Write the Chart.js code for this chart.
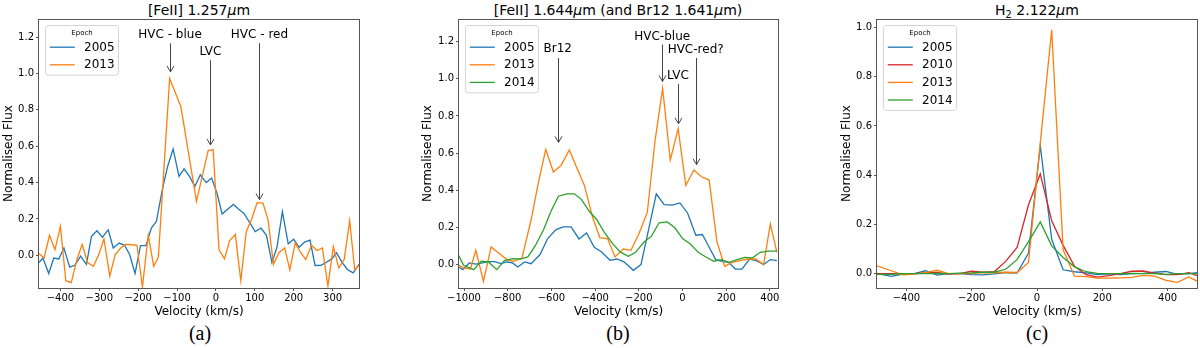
<!DOCTYPE html>
<html>
<head>
<meta charset="utf-8">
<script src="https://cdn.jsdelivr.net/npm/chart.js@4.4.1/dist/chart.umd.min.js"></script>
<style>
  html, body { margin: 0; padding: 0; background: #fff; }
  body { width: 1200px; height: 348px; position: relative; overflow: hidden; font-family: "DejaVu Sans", sans-serif; }
  canvas { position: absolute; top: 0; }
  .title { position: absolute; top: 2px; width: 400px; text-align: center; font-size: 14px; line-height: 17px; color: #000; white-space: nowrap; }
  .title sub { font-size: 70%; line-height: 0; vertical-align: -0.3em; }
  .caption { position: absolute; top: 321px; width: 100px; text-align: center; font-family: "Liberation Serif", "Times New Roman", serif; font-size: 20px; line-height: 24px; }
</style>
</head>
<body>
<div class="title" style="left:-1px">[FeII] 1.257<i>μ</i>m</div>
<div class="title" style="left:418px">[FeII] 1.644<i>μ</i>m (and Br12 1.641<i>μ</i>m)</div>
<div class="title" style="left:837px">H<sub>2</sub> 2.122<i>μ</i>m</div>
<canvas id="panelA" width="370" height="320" style="left:0"></canvas>
<canvas id="panelB" width="370" height="320" style="left:419px"></canvas>
<canvas id="panelC" width="362" height="320" style="left:838px"></canvas>
<div class="caption" style="left:150px">(a)</div>
<div class="caption" style="left:568px">(b)</div>
<div class="caption" style="left:987px">(c)</div>
<script>
// ---- panel (a): [FeII] 1.257um ----
const velA2005 = [-455,-445,-430,-417,-404,-391,-376,-363,-348,-333,-320,-306,-292,-277,-264,-249,-235,-222,-208,-194,-180,-166,-153,-138,-124,-110,-95,-82,-68,-54,-40,-25,-11,3,16,31,45,58,72,87,101,116,130,144,157,171,186,200,214,228,242,255,270,283,298,310,325,338,353,368];
const fluxA2005 = [-0.04,-0.015,-0.10,-0.015,-0.02,0.04,-0.065,-0.055,-0.005,-0.05,0.105,0.135,0.10,0.14,0.04,0.067,0.055,0.004,-0.10,0.053,0.053,0.15,0.187,0.36,0.49,0.585,0.434,0.475,0.434,0.379,0.443,0.40,0.425,0.34,0.227,0.255,0.28,0.255,0.23,0.18,0.13,0.15,0.11,-0.04,0.044,0.24,0.063,0.088,0.044,0.073,0.083,-0.056,-0.055,-0.04,-0.02,0.014,-0.04,-0.078,-0.097,-0.05];
const velA2013 = [-455,-442,-428,-414,-400,-386,-372,-357,-344,-330,-315,-301,-288,-273,-259,-245,-231,-216,-203,-189,-174,-160,-148,-119,-90,-50,-20,-7,8,22,35,50,64,78,93,106,121,134,148,162,177,190,204,218,231,246,260,274,288,302,316,330,344,357,370];
const fluxA2013 = [0.01,-0.015,0.11,0.03,0.16,-0.14,-0.15,-0.02,0.06,-0.04,-0.06,0.005,0.09,-0.115,0.004,0.04,0.06,0.058,0.055,-0.175,0.11,-0.06,-0.01,0.973,0.817,0.297,0.576,0.58,0.03,-0.02,0.08,0.114,-0.14,0.13,0.205,0.29,0.287,0.196,-0.05,0.014,0.04,-0.08,0.068,0.014,-0.023,0.055,0.026,0.04,-0.17,0.047,-0.07,-0.023,0.19,-0.08,-0.05];
const xTicksA = [-400, -300, -200, -100, 0, 100, 200, 300];
const yTicksA = [0, 0.2, 0.4, 0.6, 0.8, 1.0, 1.2];

// ---- panel (b): [FeII] 1.644um and Br12 ----
const velB2005 = [-1025,-1006,-976,-946,-915,-888,-860,-830,-804,-778,-754,-723,-693,-652,-617,-579,-545,-510,-474,-439,-404,-370,-332,-300,-268,-225,-190,-155,-120,-84,-46,-12,23,61,91,122,152,181,211,242,272,307,338,371,402,432];
const fluxB2005 = [-0.013,-0.027,0.009,0.003,0.009,0.016,0.016,0.005,0.014,0.009,-0.013,0.014,0.005,0.054,0.14,0.188,0.203,0.203,0.138,0.17,0.093,0.068,0.023,0.03,0.015,-0.031,0.0,0.19,0.381,0.323,0.32,0.332,0.278,0.158,0.162,0.093,0.027,0.018,0.012,-0.024,-0.024,0.03,0.021,0.0,0.027,0.021];
const velB2013 = [-1025,-1002,-971,-946,-911,-876,-842,-804,-774,-735,-693,-660,-626,-591,-556,-518,-484,-449,-413,-378,-343,-309,-271,-236,-199,-161,-126,-91,-56,-20,15,52,87,122,157,193,227,262,300,335,371,402,432];
const fluxB2013 = [-0.004,-0.018,-0.024,0.077,-0.09,0.095,0.063,0.027,0.018,0.035,0.24,0.44,0.62,0.498,0.534,0.617,0.521,0.426,0.26,0.144,0.14,0.041,0.084,0.077,0.167,0.282,0.665,0.948,0.563,0.732,0.426,0.509,0.473,0.455,0.125,-0.009,0.012,0.021,0.03,0.03,0.0,0.219,0.066];
const velB2014 = [-1025,-1002,-956,-921,-888,-850,-815,-778,-743,-708,-675,-637,-602,-568,-530,-495,-462,-427,-393,-358,-318,-284,-248,-215,-177,-142,-107,-70,-35,0,36,72,107,143,178,213,250,285,320,356,391,432];
const fluxB2014 = [0.05,-0.004,-0.027,0.018,0.014,-0.027,0.021,0.032,0.03,0.041,0.099,0.185,0.287,0.368,0.381,0.381,0.35,0.287,0.243,0.174,0.11,0.067,0.045,0.066,0.12,0.153,0.225,0.23,0.198,0.14,0.111,0.066,0.041,0.018,0.027,0.012,0.027,0.039,0.036,0.066,0.072,0.072];
const xTicksB = [-1000, -800, -600, -400, -200, 0, 200, 400];
const yTicksB = [0, 0.2, 0.4, 0.6, 0.8, 1.0, 1.2];

// ---- panel (c): H2 2.122um ----
const velC = [-490,-446,-411,-376,-341,-306,-271,-236,-201,-166,-131,-96,-61,-26,10,45,80,115,150,185,220,255,290,325,360,395,430,465,490];
const fluxC2005 = [0.0,-0.011,-0.002,0.0,0.012,-0.006,0.0,0.0,-0.004,-0.005,-0.001,0.005,0.003,0.084,0.52,0.14,0.016,0.008,0.003,-0.004,-0.001,-0.004,0.0,0.001,0.006,0.009,-0.003,0.0,0.004];
const fluxC2010 = [0.0,0.0,0.0,0.0,0.003,0.005,-0.002,0.0,0.01,0.006,0.008,0.05,0.107,0.28,0.405,0.215,0.115,0.03,-0.004,-0.014,-0.008,0.0,0.01,0.011,0.002,-0.004,-0.004,0.004,-0.008];
const fluxC2013 = [0.032,0.012,-0.005,-0.002,0.004,0.014,0.0,0.0,0.0,0.005,0.004,0.006,0.005,0.046,0.53,0.99,0.097,-0.01,-0.012,-0.018,-0.018,-0.017,-0.015,-0.007,-0.01,-0.027,-0.035,-0.013,-0.03];
const fluxC2014 = [-0.003,-0.003,0.0,0.0,0.0,0.001,0.0,0.002,0.003,0.006,0.006,0.018,0.057,0.13,0.21,0.113,0.066,0.028,0.008,0.001,0.0,0.0,0.001,0.0,0.0,-0.003,0.0,0.0,0.0];
const xTicksC = [-400, -200, 0, 200, 400];
const yTicksC = [0, 0.2, 0.4, 0.6, 0.8, 1.0];

// arrow labels, in data units
const notesA = [
  { text: 'HVC - blue', x: -118, textY: 1.215, tailY: 1.166, tipY: 1.009 },
  { text: 'LVC', x: -14, textY: 1.117, tailY: 1.073, tipY: 0.607 },
  { text: 'HVC - red', x: 112, textY: 1.215, tailY: 1.166, tipY: 0.306 }
];
const notesB = [
  { text: 'Br12', x: -571, textY: 1.160, tailY: 1.112, tipY: 0.658 },
  { text: 'HVC-blue', x: -93, textY: 1.228, tailY: 1.184, tipY: 0.986 },
  { text: 'LVC', x: -21, textY: 1.017, tailY: 0.972, tipY: 0.758 },
  { text: 'HVC-red?', x: 60, textY: 1.157, tailY: 1.112, tipY: 0.538 }
];

const epochColors = { '2005': '#1f77b4', '2010': '#d62728', '2013': '#ff7f0e', '2014': '#2ca02c' };
const FONT = '"DejaVu Sans"';
Chart.defaults.font.family = 'DejaVu Sans';

function fmtNum(v, digits) {
    const s = Math.abs(v).toFixed(digits);
    return v < 0 ? '\u2212' + s : s;
}

// box around the plot area
const framePlugin = {
    id: 'frame',
    afterDatasetsDraw(chart) {
        const a = chart.chartArea;
        const ctx = chart.ctx;
        ctx.save();
        ctx.strokeStyle = '#555';
        ctx.lineWidth = 1;
        ctx.strokeRect(a.left - 0.5, a.top + 0.5, a.right - a.left + 1, a.bottom - a.top);
        ctx.restore();
    }
};

// matplotlib style legend with small "Epoch" title
const legendPlugin = {
    id: 'epochLegend',
    afterDatasetsDraw(chart) {
        const ctx = chart.ctx;
        const a = chart.chartArea;
        const sets = chart.data.datasets;
        const bx = a.left + 6.5, by = a.top + 6.5;
        const bw = 73, bh = 14.5 + 17.6 * sets.length;
        ctx.save();
        ctx.beginPath();
        ctx.roundRect(bx, by, bw, bh, 3);
        ctx.fillStyle = 'rgba(255,255,255,0.85)';
        ctx.fill();
        ctx.strokeStyle = '#d4d4d4';
        ctx.lineWidth = 1;
        ctx.stroke();
        ctx.fillStyle = '#000';
        ctx.textBaseline = 'middle';
        ctx.textAlign = 'center';
        ctx.font = '7px ' + FONT;
        ctx.fillText('Epoch', bx + bw / 2, by + 7.3);
        ctx.textAlign = 'left';
        ctx.font = '12px ' + FONT;
        sets.forEach((d, i) => {
            const yy = by + 21.7 + 17.6 * i;
            ctx.strokeStyle = d.borderColor;
            ctx.lineWidth = d.borderWidth;
            ctx.beginPath();
            ctx.moveTo(bx + 4.3, yy);
            ctx.lineTo(bx + 29.3, yy);
            ctx.stroke();
            ctx.fillText(d.label, bx + 38.6, yy + 0.5);
        });
        ctx.restore();
    }
};

function notesPlugin(notes) {
    return {
        id: 'notes',
        afterDatasetsDraw(chart) {
            const ctx = chart.ctx;
            const x = chart.scales.x, y = chart.scales.y;
            ctx.save();
            ctx.font = '12px ' + FONT;
            ctx.fillStyle = '#000';
            ctx.textAlign = 'center';
            ctx.textBaseline = 'middle';
            ctx.strokeStyle = '#444';
            ctx.lineWidth = 1;
            notes.forEach(n => {
                const cx = x.getPixelForValue(n.x);
                const px = Math.round(cx) + 0.5;
                ctx.fillText(n.text, cx, y.getPixelForValue(n.textY));
                const ty = y.getPixelForValue(n.tailY);
                const hy = y.getPixelForValue(n.tipY);
                ctx.beginPath();
                ctx.moveTo(px, ty);
                ctx.lineTo(px, hy);
                ctx.moveTo(px - 3.5, hy - 6);
                ctx.lineTo(px, hy);
                ctx.lineTo(px + 3.5, hy - 6);
                ctx.stroke();
            });
            ctx.restore();
        }
    };
}

function makePanel(id, series, cfg) {
    const n = series.length;
    const datasets = series.map((s, i) => ({
        label: s.label,
        data: s.vel.map((v, k) => ({ x: v, y: s.flux[k] })),
        borderColor: epochColors[s.label],
        borderWidth: 1.3,
        pointRadius: 0,
        tension: 0,
        fill: false,
        order: n - i
    }));
    const tickFont = { family: 'DejaVu Sans', size: 10 };
    const titleFont = { family: 'DejaVu Sans', size: 12 };
    const gridOpts = { display: true, drawOnChartArea: false, drawTicks: true, tickLength: 3, color: '#555' };
    return new Chart(document.getElementById(id), {
        type: 'line',
        data: { datasets },
        options: {
            responsive: false,
            animation: false,
            events: [],
            layout: { padding: { top: 19, right: cfg.padRight, left: 0, bottom: 0 } },
            plugins: { legend: { display: false }, tooltip: { enabled: false } },
            scales: {
                x: {
                    type: 'linear',
                    min: cfg.xMin,
                    max: cfg.xMax,
                    afterBuildTicks: s => { s.ticks = cfg.xTicks.map(v => ({ value: v })); },
                    afterFit: s => { s.height = 32; },
                    grid: gridOpts,
                    border: { display: false },
                    ticks: { color: '#000', font: tickFont, padding: 1, maxRotation: 0, autoSkip: false,
                             callback: v => fmtNum(v, 0) },
                    title: { display: true, text: 'Velocity (km/s)', color: '#000', font: titleFont,
                             padding: { top: 0, bottom: 1 } }
                },
                y: {
                    type: 'linear',
                    min: cfg.yMin,
                    max: cfg.yMax,
                    afterBuildTicks: s => { s.ticks = cfg.yTicks.map(v => ({ value: v })); },
                    afterFit: s => { s.width = cfg.yWidth; },
                    grid: gridOpts,
                    border: { display: false },
                    ticks: { color: '#000', font: tickFont, padding: 2, autoSkip: false,
                             callback: v => fmtNum(v, 1) },
                    title: { display: true, text: 'Normalised Flux', color: '#000', font: titleFont,
                             padding: { top: 2, bottom: 0 } }
                }
            }
        },
        plugins: [framePlugin, notesPlugin(cfg.notes), legendPlugin]
    });
}

makePanel('panelA', [
    { label: '2005', vel: velA2005, flux: fluxA2005 },
    { label: '2013', vel: velA2013, flux: fluxA2013 }
], { xMin: -455, xMax: 368, yMin: -0.18, yMax: 1.30, xTicks: xTicksA, yTicks: yTicksA,
     yWidth: 39, padRight: 11, notes: notesA });

makePanel('panelB', [
    { label: '2005', vel: velB2005, flux: fluxB2005 },
    { label: '2013', vel: velB2013, flux: fluxB2013 },
    { label: '2014', vel: velB2014, flux: fluxB2014 }
], { xMin: -1023, xMax: 437, yMin: -0.126, yMax: 1.322, xTicks: xTicksB, yTicks: yTicksB,
     yWidth: 40, padRight: 11, notes: notesB });

makePanel('panelC', [
    { label: '2005', vel: velC, flux: fluxC2005 },
    { label: '2010', vel: velC, flux: fluxC2010 },
    { label: '2013', vel: velC, flux: fluxC2013 },
    { label: '2014', vel: velC, flux: fluxC2014 }
], { xMin: -490, xMax: 490, yMin: -0.058, yMax: 1.034, xTicks: xTicksC, yTicks: yTicksC,
     yWidth: 39, padRight: 3, notes: [] });
</script>
</body>
</html>
